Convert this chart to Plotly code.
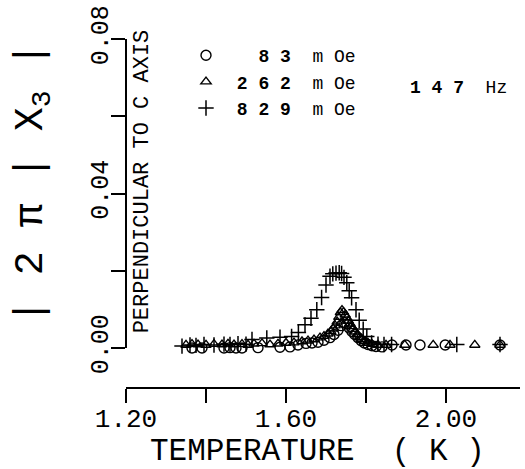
import plotly.graph_objects as go

# ---- data (temperature K, |2pi chi3|) ----
t_83 = [1.345, 1.355, 1.365, 1.375, 1.39, 1.41, 1.43, 1.445, 1.46, 1.475, 1.49, 1.51, 1.53,
        1.555, 1.585, 1.61, 1.63, 1.65, 1.665, 1.68, 1.695, 1.71, 1.72, 1.73, 1.738, 1.745,
        1.752, 1.758, 1.765, 1.772, 1.78, 1.788, 1.796, 1.805, 1.815, 1.825, 1.84, 1.865,
        1.9, 1.935, 1.998, 2.135]
v_83 = [-0.0003, -0.0002, 0.0, -0.0002, 0.0, -0.0001, -0.0002, 0.0, 0.0001, 0.0, 0.0, -0.0003,
        0.0001, -0.0002, 0.0002, 0.0003, 0.0008, 0.0012, 0.0013, 0.0015, 0.0020, 0.0027, 0.0035,
        0.0046, 0.0058, 0.0066, 0.0062, 0.0052, 0.0043, 0.0035, 0.0027, 0.0019, 0.0013, 0.0009,
        0.0006, 0.0004, 0.0003, 0.0008, 0.0008, 0.0008, 0.0008, 0.0008]

t_262 = [1.35, 1.365, 1.38, 1.40, 1.42, 1.44, 1.455, 1.47, 1.49, 1.505, 1.52, 1.54, 1.56, 1.58,
         1.60, 1.62, 1.64, 1.655, 1.67, 1.685, 1.695, 1.705, 1.712, 1.718, 1.723, 1.728, 1.732,
         1.736, 1.74, 1.744, 1.748, 1.752, 1.756, 1.76, 1.764, 1.768, 1.773, 1.778, 1.784, 1.79,
         1.797, 1.805, 1.815, 1.83, 1.85, 1.897, 1.968, 2.01, 2.072, 2.135]
v_262 = [0.0008, 0.001, 0.0009, 0.0008, 0.001, 0.0009, 0.0011, 0.0009, 0.001, 0.0008, 0.0011,
         0.0012, 0.0009, 0.0011, 0.0013, 0.0014, 0.0017, 0.0019, 0.0022, 0.0027, 0.0031, 0.0037,
         0.0043, 0.0050, 0.0058, 0.0068, 0.0080, 0.0092, 0.0098, 0.0093, 0.0086, 0.0078, 0.0070,
         0.0063, 0.0056, 0.0049, 0.0042, 0.0035, 0.0028, 0.0022, 0.0017, 0.0013, 0.0010, 0.0008,
         0.0008, 0.0008, 0.0008, 0.0008, 0.0008, 0.0008]

t_829 = [1.34, 1.36, 1.375, 1.395, 1.42, 1.445, 1.46, 1.48, 1.50, 1.515, 1.552, 1.585, 1.614,
         1.631, 1.6475, 1.6625, 1.677, 1.689, 1.70, 1.71, 1.717, 1.725, 1.733, 1.739, 1.745,
         1.752, 1.758, 1.764, 1.775, 1.783, 1.793, 1.802, 1.814, 1.83, 1.845, 1.864, 2.027, 2.135]
v_829 = [0.0005, 0.0008, 0.0007, 0.0009, 0.0008, 0.0010, 0.0009, 0.0011, 0.0010, 0.0022, 0.0026,
         0.0028, 0.0030, 0.0040, 0.0060, 0.0077, 0.0099, 0.0131, 0.0163, 0.0186, 0.0192, 0.0194,
         0.0195, 0.0193, 0.0183, 0.0169, 0.0148, 0.0130, 0.0099, 0.0072, 0.0049, 0.0030, 0.0013,
         0.0010, 0.0009, 0.0009, 0.0009, 0.0009]

x_ticks = [1.2, 1.6, 2.0]
x_ticktext = ["1.20", "1.60", "2.00"]
x_minor = [1.4, 1.8]
y_ticks = [0.0, 0.04, 0.08]
y_ticktext = ["0.00", "0.04", "0.08"]
y_minor = [0.02, 0.06]

legend_names = [
    "\u00a0\u00a0\u00a0<b>8\u00a03</b>\u00a0\u00a0m\u00a0Oe",
    "\u00a0<b>2\u00a06\u00a02</b>\u00a0\u00a0m\u00a0Oe",
    "\u00a0<b>8\u00a02\u00a09</b>\u00a0\u00a0m\u00a0Oe",
]

MONO = "Liberation Mono"

fig = go.Figure()
fig.add_trace(go.Scatter(x=t_83, y=v_83, mode="markers", name=legend_names[0], cliponaxis=False,
                         marker=dict(symbol="circle-open", size=10, color="black",
                                     line=dict(width=1.4, color="black"))))
fig.add_trace(go.Scatter(x=t_262, y=v_262, mode="markers", name=legend_names[1], cliponaxis=False,
                         marker=dict(symbol="triangle-up-open", size=9, color="black",
                                     line=dict(width=1.4, color="black"))))
fig.add_trace(go.Scatter(x=t_829, y=v_829, mode="markers", name=legend_names[2], cliponaxis=False,
                         marker=dict(symbol="cross-thin-open", size=11, color="black",
                                     line=dict(width=1.5, color="black"))))

W, H = 525, 469
L, R, T, B = 126, 5, 30, 81
pw, ph = W - L - R, H - T - B


def px(xp):
    return (xp - L) / pw


def py(yp):
    return (H - B - yp) / ph


minor_style = dict(ticks="outside", ticklen=14, tickwidth=1.6, tickcolor="black", showgrid=False)

fig.update_layout(
    width=W, height=H,
    margin=dict(l=L, r=R, t=T, b=B, pad=0),
    paper_bgcolor="white", plot_bgcolor="white",
    font=dict(family=MONO, color="black"),
    showlegend=True,
    legend=dict(x=px(186), y=py(28), xanchor="left", yanchor="top",
                font=dict(family=MONO, size=18, color="black"),
                bgcolor="rgba(0,0,0,0)", borderwidth=0, itemclick=False),
    xaxis=dict(range=[1.2, 2.185], anchor="free", position=0,
               showline=True, linecolor="black", linewidth=1.6,
               ticks="outside", ticklen=14, tickwidth=1.6, tickcolor="black",
               tickvals=x_ticks, ticktext=x_ticktext, ticklabelstandoff=-7,
               ticklabeloverflow="allow",
               minor=dict(tickvals=x_minor, **minor_style),
               tickfont=dict(family=MONO, size=26, color="black"),
               showgrid=False, zeroline=False),
    yaxis=dict(range=[0, 0.08], domain=[(H - B - 347) / ph, 1], anchor="free", position=0,
               showline=True, linecolor="black", linewidth=1.6,
               ticks="outside", ticklen=14, tickwidth=1.6, tickcolor="black",
               tickvals=y_ticks, ticktext=y_ticktext, tickangle=-90,
               ticklabelstandoff=-7, ticklabeloverflow="allow",
               minor=dict(tickvals=y_minor, **minor_style),
               tickfont=dict(family=MONO, size=25, color="black"),
               showgrid=False, zeroline=False),
)

fig.add_annotation(text="|\u00a02\u00a0\u03c0\u00a0|\u00a0X<sub>3</sub>\u00a0|", textangle=-90,
                   xref="paper", yref="paper", x=px(33), y=py(178), showarrow=False,
                   xanchor="center", yanchor="middle",
                   font=dict(family=MONO, size=40, color="black"))
fig.add_annotation(text="PERPENDICULAR TO C AXIS", textangle=-90,
                   xref="paper", yref="paper", x=px(142), y=py(176), showarrow=False,
                   xanchor="center", yanchor="middle",
                   font=dict(family=MONO, size=22, color="black"))
fig.add_annotation(text="TEMPERATURE\u00a0\u00a0(\u00a0K\u00a0)",
                   xref="paper", yref="paper", x=px(317), y=py(453), showarrow=False,
                   xanchor="center", yanchor="middle",
                   font=dict(family=MONO, size=31, color="black"))
fig.add_annotation(text="<b>1\u00a04\u00a07</b>\u00a0\u00a0Hz",
                   xref="paper", yref="paper", x=px(408), y=py(80), showarrow=False,
                   xanchor="left", yanchor="middle",
                   font=dict(family=MONO, size=18, color="black"))

fig.write_html("out.html")
